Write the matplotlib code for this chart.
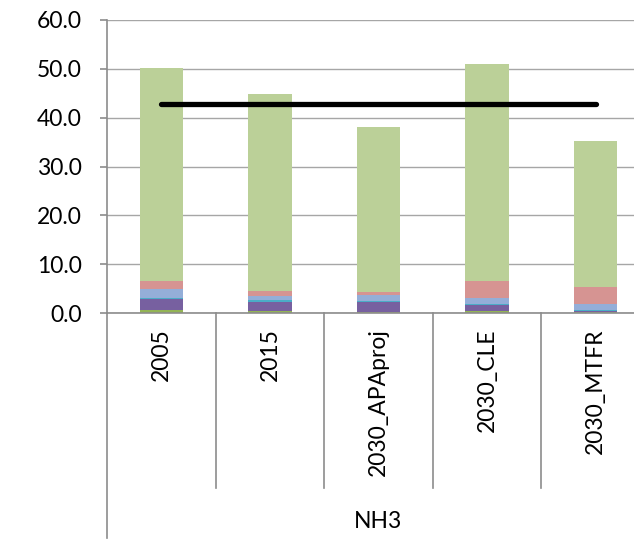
import matplotlib
matplotlib.use('Agg')
import matplotlib.pyplot as plt
import matplotlib.transforms as mtransforms
import numpy as np

plt.rcParams['font.family'] = ['Lato', 'DejaVu Sans']

scenarios = ['2005', '2015', '2030_APAproj', '2030_CLE', '2030_MTFR']
group_label = 'NH3'

# stacked segments, bottom to top
seg_green = [0.7, 0.5, 0.3, 0.5, 0.2]
seg_purple = [2.1, 1.8, 2.0, 1.2, 0.3]
seg_teal = [0.2, 0.3, 0.2, 0.1, 0.1]
seg_blue = [1.9, 0.8, 1.1, 1.2, 1.2]
seg_pink = [1.6, 1.2, 0.7, 3.5, 3.5]
seg_lightgreen = [43.7, 40.2, 33.8, 44.5, 29.9]
target = [42.8, 42.8, 42.8, 42.8, 42.8]

series = [seg_green, seg_purple, seg_teal, seg_blue, seg_pink, seg_lightgreen]
colors = ['#93B455', '#7760A0', '#4BACC6', '#94AED8', '#D69492', '#BBD098']

fig = plt.figure(figsize=(6.34, 5.40), dpi=100)
ax = fig.add_axes([107 / 634, 227 / 540, 543 / 634, 293 / 540])

x = np.arange(len(scenarios))
bottom = np.zeros(len(scenarios))
for vals, c in zip(series, colors):
    ax.bar(x, vals, width=0.4, bottom=bottom, color=c, zorder=2)
    bottom += np.array(vals)

ax.plot(x, target, color='black', lw=3.8, solid_capstyle='round', zorder=3)

gray = '#8C8C8C'
fs = 16.5
ax.set_xlim(-0.5, len(scenarios) - 0.5)
ax.set_ylim(0, 60)
ax.set_yticks(np.arange(0, 61, 10))
ax.set_yticklabels(['%.1f' % v for v in np.arange(0, 61, 10)], fontsize=fs)
ax.yaxis.grid(True, color='#A6A6A6', lw=1, zorder=0)
ax.set_axisbelow(True)

for s in ['top', 'right']:
    ax.spines[s].set_visible(False)
ax.spines['left'].set_color(gray)
ax.spines['bottom'].set_color(gray)
ax.spines['left'].set_linewidth(1.2)
ax.spines['bottom'].set_linewidth(1.2)
ax.tick_params(axis='y', length=5, color=gray, width=1.2, pad=13)

ax.set_xticks(x)
ax.set_xticklabels(scenarios, rotation=90, fontsize=fs)
ax.tick_params(axis='x', length=0, pad=11)

# category divider lines below the axis
trans = mtransforms.blended_transform_factory(ax.transData, ax.transAxes)
for b in np.arange(0.5, len(scenarios), 1.0):
    ax.plot([b, b], [0, -0.597], transform=trans, color=gray, lw=1.2, clip_on=False)
ax.plot([-0.5, -0.5], [0, -0.768], transform=trans, color=gray, lw=1.2, clip_on=False)

ax.text(0.499, -0.713, group_label, transform=ax.transAxes, ha='center', va='center', fontsize=fs)

fig.savefig('out.png', dpi=100)
